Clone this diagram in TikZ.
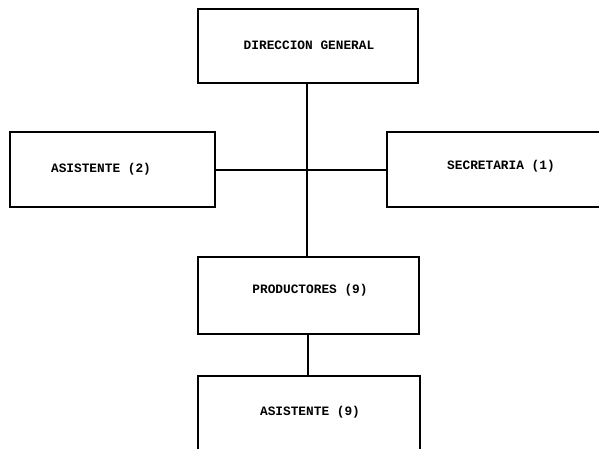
\documentclass[tikz,border=0pt]{standalone}
\usepackage{fontspec}
\setmonofont{Liberation Mono}
\begin{document}
\begin{tikzpicture}[x=1pt,y=1pt,
  box/.style={draw=black, line width=2pt, rectangle, inner sep=0pt},
  lbl/.style={font=\ttfamily\bfseries\fontsize{12.8}{13}\selectfont, inner sep=0pt},
  conn/.style={draw=black, line width=2pt}]
\useasboundingbox (0,0) rectangle (599,-448);
\clip (0,0) rectangle (599,-448);
\node[box, minimum width=220pt, minimum height=74pt] (dg) at (308,-46) {};
\node[box, minimum width=205pt, minimum height=75pt] (a2) at (112.5,-169.5) {};
\node[box, minimum width=220pt, minimum height=75pt] (sec) at (497,-169.5) {};
\node[box, minimum width=221pt, minimum height=77pt] (prod) at (308.5,-295.5) {};
\node[box, minimum width=222pt, minimum height=90pt] (a9) at (309,-421) {};
\node[lbl] (tdg) at (309,-45) {DIRECCION GENERAL};
\node[lbl] (ta2) at (101,-169) {ASISTENTE (2)};
\node[lbl] (tsec) at (501,-166) {SECRETARIA (1)};
\node[lbl] (tprod) at (310,-290) {PRODUCTORES (9)};
\node[lbl] (ta9) at (310,-412) {ASISTENTE (9)};
\draw[conn] ([xshift=-1pt]dg.south) -- ([xshift=-1pt]dg.south |- prod.north);
\draw[conn] (a2.east) -- (sec.west);
\draw[conn] ([xshift=-1pt]prod.south) -- ([xshift=-1pt]prod.south |- a9.north);
\end{tikzpicture}
\end{document}
